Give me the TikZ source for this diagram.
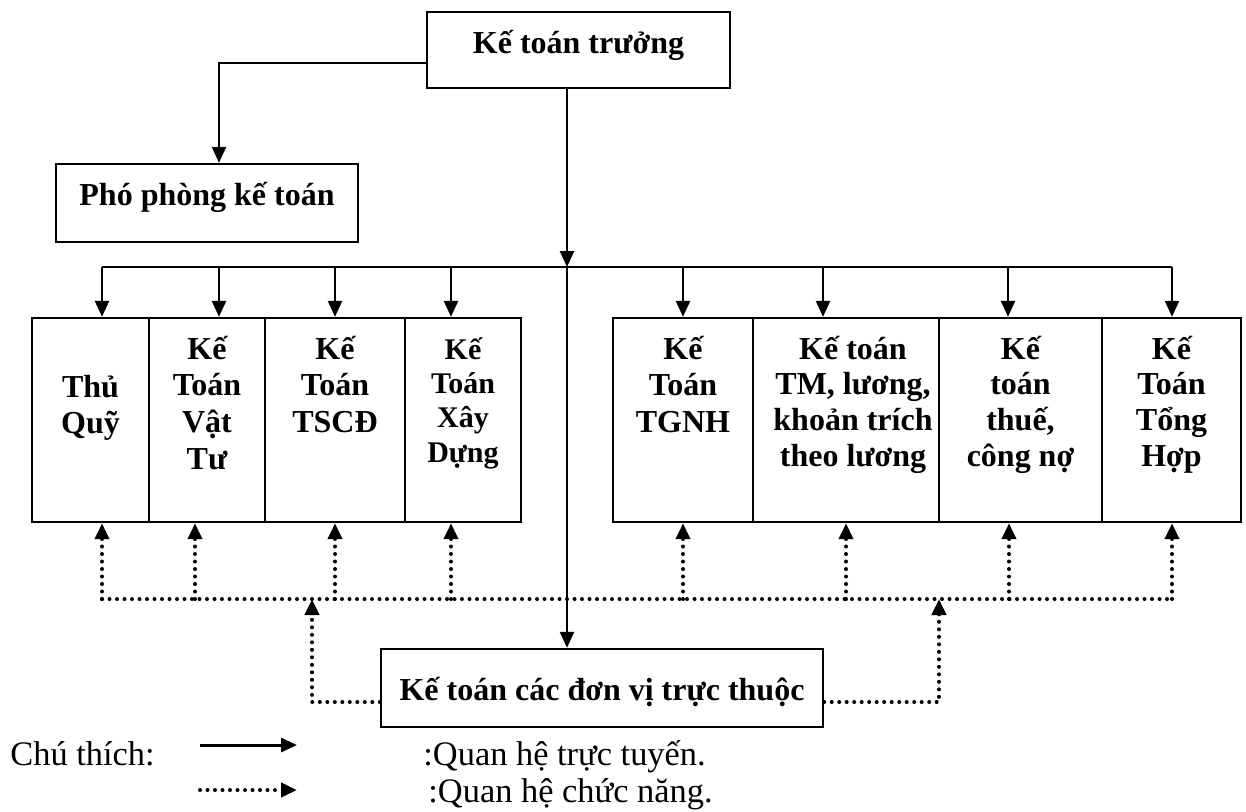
\documentclass[tikz,border=0pt]{standalone}
\usepackage{fontspec}
\setmainfont{Liberation Serif}
\usetikzlibrary{arrows.meta}
\begin{document}
\begin{tikzpicture}[x=0.5pt,y=-0.5pt,
  box/.style={draw,line width=1.2pt,rectangle,inner sep=0pt},
  solidarr/.style={line width=1.25pt,-{Triangle[width=7pt,length=8pt]}},
  plainline/.style={line width=1.25pt},
  dotline/.style={line width=2pt,line cap=round,dash pattern=on 0pt off 3.75pt},
  dotarr/.style={dotline,-{Triangle[width=7pt,length=8pt]}},
  boxfont/.style={font=\fontsize{16}{18.4}\selectfont\bfseries,inner sep=0pt},
  celltext/.style={boxfont,align=flush center,anchor=base},
  fourline/.style={font=\fontsize{16}{17.9}\selectfont\bfseries},
  legfont/.style={font=\fontsize{17.2}{20}\selectfont,inner sep=0pt,anchor=base west},
]
\useasboundingbox (0,0) rectangle (1246,811);

% boxes
\node[box,minimum width=151.5pt,minimum height=38pt] (kt) at (578.5,50) {};
\node[box,minimum width=151pt,minimum height=39pt] (pp) at (207,203) {};
\node[box,minimum width=58.5pt,minimum height=102pt] (c1) at (90.5,420) {};
\node[box,minimum width=58pt,minimum height=102pt] (c2) at (207,420) {};
\node[box,minimum width=70pt,minimum height=102pt] (c3) at (335,420) {};
\node[box,minimum width=58pt,minimum height=102pt] (c4) at (463,420) {};
\node[box,minimum width=70pt,minimum height=102pt] (c5) at (683,420) {};
\node[box,minimum width=93pt,minimum height=102pt] (c6) at (846,420) {};
\node[box,minimum width=81.5pt,minimum height=102pt] (c7) at (1020.5,420) {};
\node[box,minimum width=69.5pt,minimum height=102pt] (c8) at (1171.5,420) {};
\node[box,minimum width=221pt,minimum height=39pt] (db) at (602,688) {};

% box texts
\node[boxfont,anchor=base] (tkt) at (578.5,53) {Kế toán trưởng};
\node[boxfont,anchor=base] (tpp) at (207,205) {Phó phòng kế toán};
\node[celltext,text width=55pt] (t1) at (90.5,397) {Thủ\\Quỹ};
\node[celltext,text width=55pt] (t2) at (207,359) {Kế\\Toán\\Vật\\Tư};
\node[celltext,text width=65pt] (t3) at (335,359) {Kế\\Toán\\TSCĐ};
\node[celltext,text width=55pt,font=\fontsize{15}{17.2}\selectfont\bfseries] (t4) at (463,359) {Kế\\Toán\\Xây\\Dựng};
\node[celltext,text width=65pt] (t5) at (683,359) {Kế\\Toán\\TGNH};
\node[celltext,fourline,text width=88pt] (t6) at (853,359) {Kế toán\\TM, lương,\\khoản trích\\theo lương};
\node[celltext,fourline,text width=78pt] (t7) at (1020.5,359) {Kế\\toán\\thuế,\\công nợ};
\node[celltext,fourline,text width=65pt] (t8) at (1171.5,359) {Kế\\Toán\\Tổng\\Hợp};
\node[boxfont,anchor=base] (tdb) at (602,700) {Kế toán các đơn vị trực thuộc};

% line relations
\coordinate (ppx) at (219,63);
\draw[solidarr] (kt.west |- ppx) -- (ppx) -- (ppx |- pp.north);
\coordinate (spine) at (567,267);
\draw[solidarr] (kt.south -| spine) -- (spine);
\draw[solidarr] (spine) -- (spine |- db.north);
\coordinate (busL) at (102,267);
\coordinate (busR) at (1172,267);
\draw[plainline] (busL) -- (busR);
\foreach \x/\n in {102/c1,219/c2,335/c3,451/c4,683/c5,823/c6,1008/c7,1172/c8}
  \draw[solidarr] (\x,267) -- (\x,267 |- \n.north);

% functional relations
\coordinate (dbusL) at (102,599);
\coordinate (dbusR) at (1172,599);
\draw[dotline] (dbusL) -- (dbusR);
\foreach \x/\n in {102/c1,195/c2,335/c3,451/c4,683/c5,846/c6,1009/c7,1172/c8}
  \draw[dotarr] (\x,599) -- (\x,599 |- \n.south);
\coordinate (dl) at (312,599);
\coordinate (dr) at (939,599);
\draw[dotarr] ([yshift=-7pt]db.west) -| (dl);
\draw[dotarr] ([yshift=-7pt]db.east) -| (dr);

% legend
\node[legfont] (lg) at (10,765) {Chú thích:};
\coordinate (ls1) at (200,745);
\coordinate (le1) at (297,745);
\coordinate (ls2) at (200,790);
\coordinate (le2) at (297,790);
\draw[solidarr,line width=1.5pt] (ls1) -- (le1);
\draw[dotarr] (ls2) -- (le2);
\node[legfont] (lg1) at (423,765) {:Quan hệ trực tuyến.};
\node[legfont] (lg2) at (428,802) {:Quan hệ chức năng.};
\end{tikzpicture}
\end{document}
